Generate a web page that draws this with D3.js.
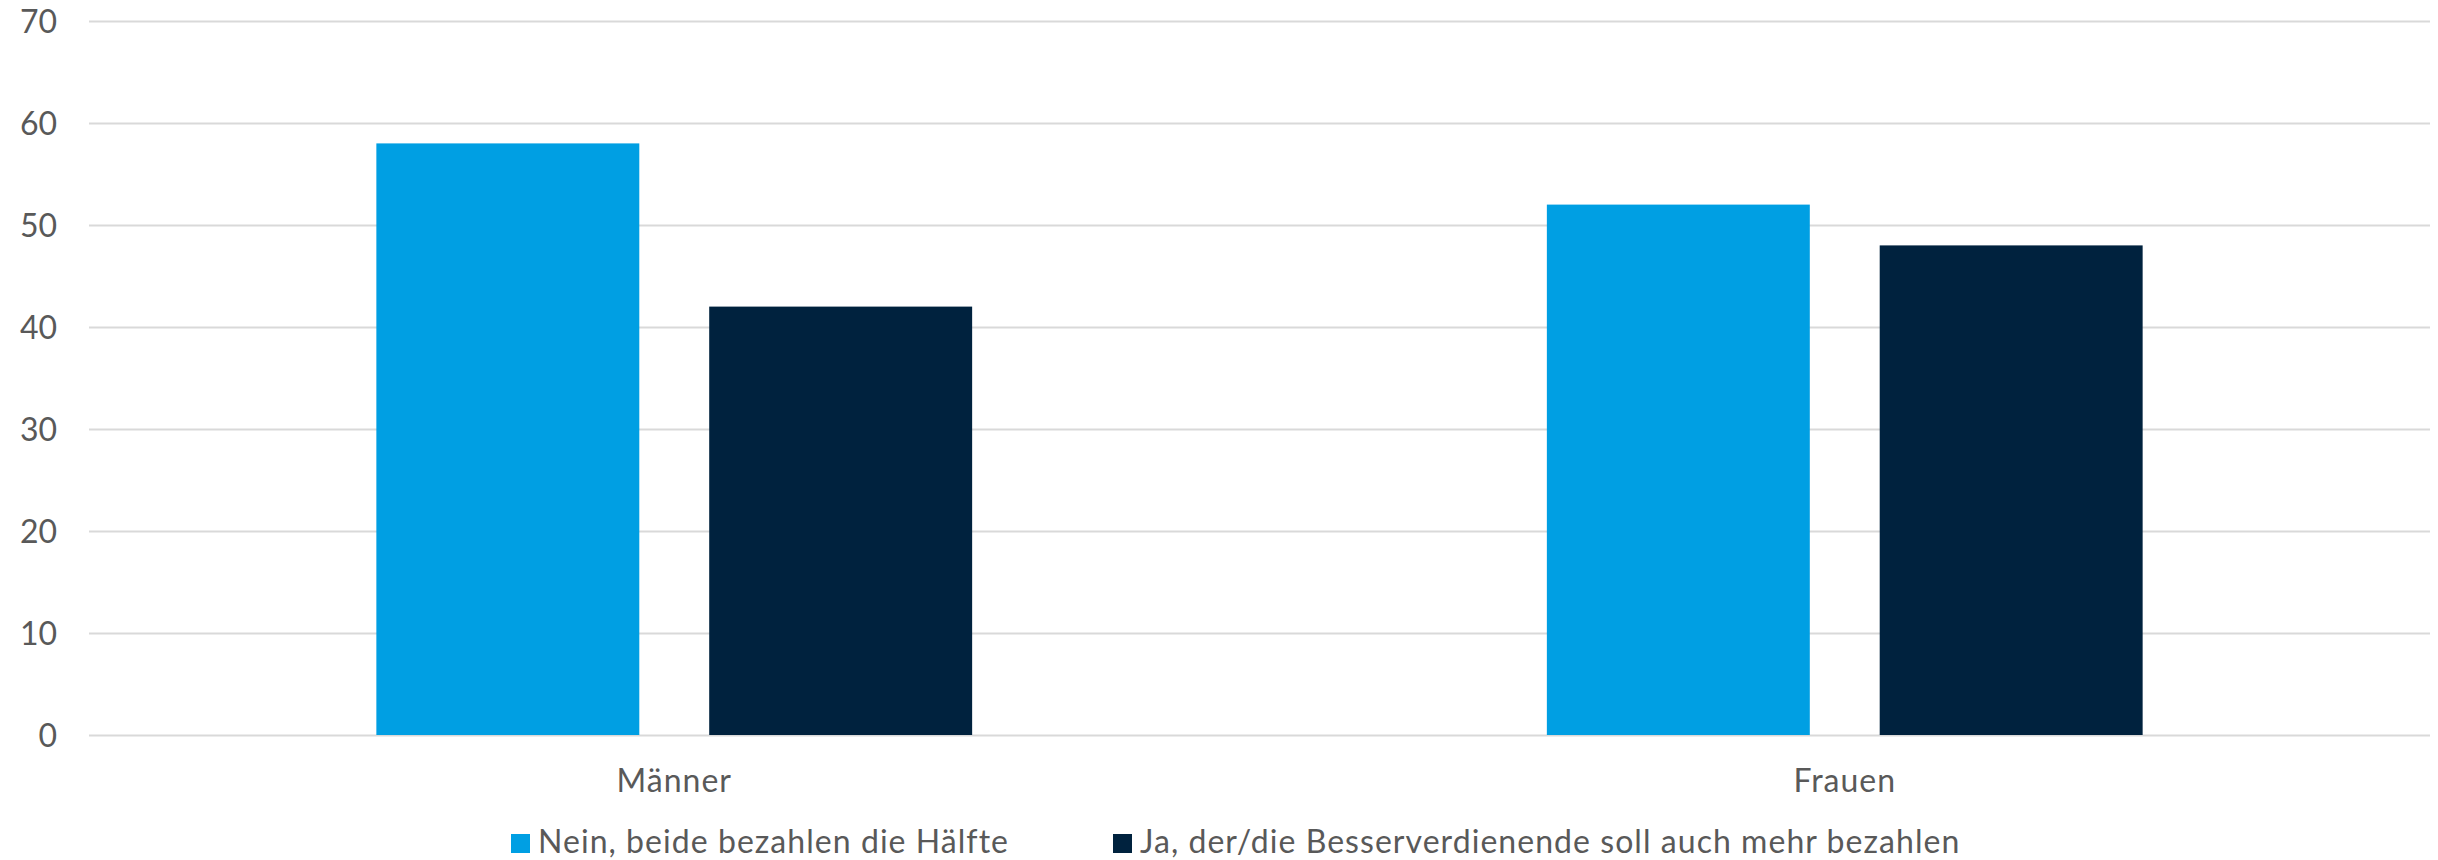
<!DOCTYPE html>
<html>
<head>
<meta charset="utf-8">
<script src="https://cdn.jsdelivr.net/npm/d3@7"></script>
<style>
  html, body { margin: 0; padding: 0; background: #ffffff; }
  svg { display: block; }
  text { font-family: Lato, "Open Sans", sans-serif; fill: #595959; }
</style>
</head>
<body>
<svg id="chart" width="2438" height="860"></svg>
<script>
const categories = ["Männer", "Frauen"];
const seriesNames = ["Nein, beide bezahlen die Hälfte", "Ja, der/die Besserverdienende soll auch mehr bezahlen"];
const seriesNein = [58, 52];
const seriesJa = [42, 48];
const yTicks = [0, 10, 20, 30, 40, 50, 60, 70];
const colors = ["#009FE3", "#00223E"];

const W = 2438, H = 860;
const margin = { left: 89, right: 8, top: 21, bottom: 125 };
const svg = d3.select("#chart");

const y = d3.scaleLinear().domain([0, 70]).range([H - margin.bottom, margin.top]);
const x0 = d3.scaleBand().domain(categories).range([margin.left, W - margin.right]).paddingInner(0).paddingOuter(0);
const groupWidth = x0.bandwidth() * 0.509;
const x1 = d3.scaleBand().domain(seriesNames).range([0, groupWidth]).paddingInner(0.21).paddingOuter(0);

// gridlines
const yAxis = d3.axisLeft(y).tickValues(yTicks).tickSize(-(W - margin.left - margin.right)).tickPadding(32).tickFormat(d3.format("d"));
const gAxis = svg.append("g").attr("transform", `translate(${margin.left},0)`).call(yAxis);
gAxis.select(".domain").remove();
gAxis.selectAll(".tick line").attr("stroke", "#D9D9D9").attr("stroke-width", 2);
gAxis.selectAll(".tick text").attr("font-size", 32).attr("fill", "#595959").attr("dy", "0.35em")
  .style("font-family", "Lato, 'Open Sans', sans-serif");

// bars
const rows = categories.map((c, i) => ({ cat: c, values: [seriesNein[i], seriesJa[i]] }));
const groups = svg.append("g").selectAll("g").data(rows).join("g")
  .attr("transform", d => `translate(${x0(d.cat) + (x0.bandwidth() - groupWidth) / 2},0)`);
groups.selectAll("rect").data(d => d.values.map((v, j) => ({ s: seriesNames[j], v, j }))).join("rect")
  .attr("x", d => x1(d.s))
  .attr("width", x1.bandwidth())
  .attr("y", d => y(d.v))
  .attr("height", d => y(0) - y(d.v))
  .attr("fill", d => colors[d.j]);

// category labels
const xAxis = d3.axisBottom(x0).tickSize(0).tickPadding(0);
const gx = svg.append("g").attr("transform", `translate(0,${y(0)})`).call(xAxis);
gx.select(".domain").remove();
gx.selectAll(".tick text").attr("font-size", 32).attr("fill", "#595959").attr("y", 57).attr("dy", 0)
  .attr("letter-spacing", 1)
  .style("font-family", "Lato, 'Open Sans', sans-serif");

// legend
const legendX = [511, 1113];
const legend = svg.append("g");
seriesNames.forEach((name, j) => {
  legend.append("rect").attr("x", legendX[j]).attr("y", 834).attr("width", 19).attr("height", 19).attr("fill", colors[j]);
  legend.append("text").attr("x", legendX[j] + 27).attr("y", 853).attr("font-size", 32)
    .attr("letter-spacing", 1.05).text(name);
});
</script>
</body>
</html>
